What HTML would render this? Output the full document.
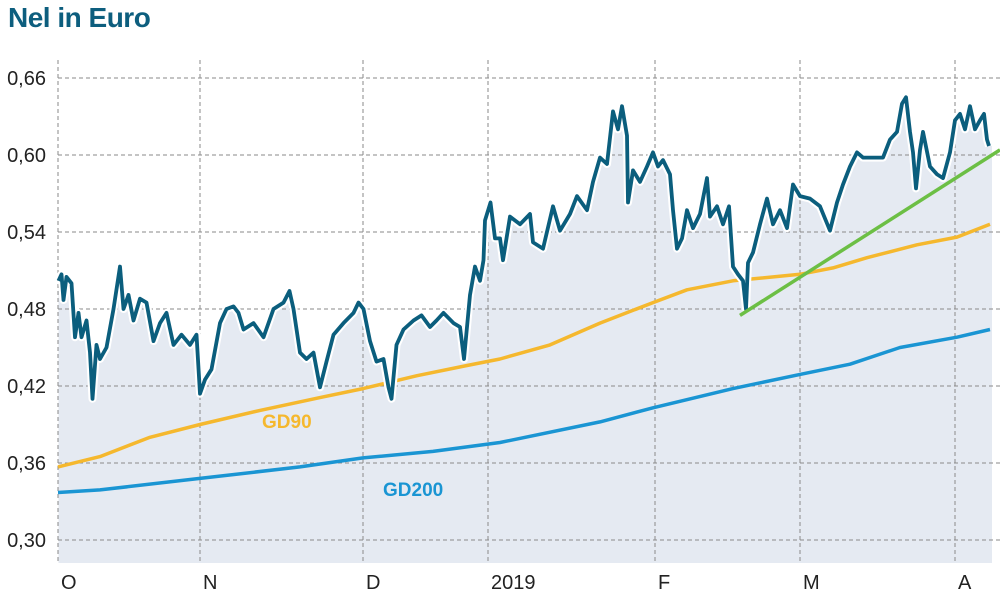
<!DOCTYPE html>
<html><head><meta charset="utf-8"><style>
html,body{margin:0;padding:0;background:#fff;width:1000px;height:595px;overflow:hidden}
svg{display:block}
text{font-family:"Liberation Sans","DejaVu Sans",sans-serif}
</style></head><body>
<svg id="chart" width="1000" height="595" viewBox="0 0 1000 595" xmlns="http://www.w3.org/2000/svg">
<text x="8" y="27" font-size="28" font-weight="bold" fill="#0d5e7e" letter-spacing="-0.5">Nel in Euro</text>
<g id="fill"></g>
<g id="grid"></g>
<g id="series"></g>
<g id="axes"></g>
<text x="262" y="428" font-size="19" font-weight="bold" fill="#f5b82e">GD90</text>
<text x="383" y="496" font-size="19" font-weight="bold" fill="#1a95d3">GD200</text>
</svg>
<script>
// x domain: session index 0..187 ; y domain: EUR
const yTicks = [0.30, 0.36, 0.42, 0.48, 0.54, 0.60, 0.66];
const yTickLabels = ["0,30","0,36","0,42","0,48","0,54","0,60","0,66"];
const monthIdx = [0, 28.4, 61, 86, 119.4, 148.4, 179.4];
const monthLabels = ["O","N","D","2019","F","M","A"];
const priceIdx = [0.1,0.7,1.1,1.7,2.7,3.4,4.1,4.7,5.7,6.4,6.9,7.7,8.4,9.7,11.1,12.4,13.1,14.1,15.1,16.4,17.7,19.1,20.4,21.7,23.1,24.7,26.4,27.7,28.4,29.4,30.7,32.4,33.7,35.1,36.1,37.1,39.1,41.1,43.1,45.1,46.3,47.1,48.4,49.7,51.1,52.4,53.7,55.1,57.1,59.1,60.1,61.1,62.4,63.7,65.1,66.1,66.7,67.7,69.1,71.1,72.7,74.4,75.7,77.1,79.1,80.4,81.2,82.4,83.4,84.4,85.1,85.4,86.5,87.4,88.4,89,90.4,92.4,94.4,95,97,99,100.4,102.4,103.8,105.8,107,108.4,109.8,111,112,112.8,113.8,114,115,116.4,117.8,119,120,121,122.4,123,123.8,124.8,125.8,127,128.4,129.8,130.4,131.8,133,134.2,135,136,137,137.6,138,139,140.4,141.8,143,144.4,145.8,147,148.4,150.4,152.4,154.4,155.8,157,158.4,159.8,161,163,165,166.4,167.8,168.8,169.6,170.4,171,171.6,172.4,173,174.4,175.8,177,178.4,179.4,180.4,181.4,182.4,183.4,184.4,185.2,185.8,186.2];
const priceVal = [0.502,0.507,0.487,0.505,0.50,0.458,0.477,0.458,0.471,0.446,0.41,0.452,0.441,0.45,0.48,0.513,0.48,0.491,0.471,0.488,0.485,0.455,0.469,0.477,0.452,0.46,0.452,0.46,0.414,0.425,0.433,0.469,0.48,0.482,0.477,0.464,0.469,0.458,0.48,0.485,0.494,0.48,0.446,0.441,0.446,0.419,0.439,0.46,0.469,0.477,0.485,0.48,0.455,0.439,0.441,0.419,0.41,0.452,0.464,0.471,0.475,0.466,0.471,0.477,0.469,0.466,0.441,0.491,0.513,0.502,0.518,0.549,0.563,0.535,0.535,0.518,0.552,0.546,0.554,0.532,0.527,0.56,0.541,0.554,0.568,0.557,0.579,0.598,0.593,0.634,0.62,0.638,0.615,0.563,0.588,0.579,0.591,0.602,0.591,0.596,0.585,0.557,0.527,0.535,0.557,0.543,0.554,0.582,0.552,0.56,0.546,0.56,0.513,0.507,0.502,0.48,0.516,0.524,0.546,0.566,0.546,0.557,0.543,0.577,0.568,0.566,0.56,0.541,0.563,0.577,0.591,0.602,0.598,0.598,0.598,0.612,0.618,0.64,0.645,0.618,0.602,0.574,0.604,0.618,0.591,0.585,0.582,0.602,0.627,0.632,0.62,0.638,0.62,0.627,0.632,0.612,0.607];
const gd90Idx = [0,8.4,18.4,28.4,40.4,52.4,61,71.8,81.8,88.4,98.4,108.4,119,125.8,135,148.4,155,161.8,171.8,179.8,186.4];
const gd90Val = [0.357,0.365,0.38,0.39,0.401,0.411,0.418,0.428,0.436,0.441,0.452,0.469,0.485,0.495,0.502,0.507,0.512,0.52,0.53,0.536,0.546];
const gd200Idx = [0,8.4,28.4,48.4,61,75,88.4,108.4,119,135,148.4,158.4,168.4,179.8,186.4];
const gd200Val = [0.337,0.339,0.348,0.357,0.364,0.369,0.376,0.392,0.403,0.418,0.429,0.437,0.45,0.458,0.464];
const trendIdx = [136.4, 188.4];
const trendVal = [0.475, 0.604];

const X0=58, X1=992, Y0=563, YTOP=60;
const xS = i => X0 + i*(X1-X0)/186.8;
const yS = v => 540 - (v-0.30)*(462/0.36);
const NS="http://www.w3.org/2000/svg";
function mk(tag, parent, attrs){const e=document.createElementNS(NS,tag);for(const k in attrs)e.setAttribute(k,attrs[k]);parent.appendChild(e);return e;}
const fillG=document.getElementById('fill'), gridG=document.getElementById('grid'), serG=document.getElementById('series'), axG=document.getElementById('axes');

function pts(ix, vs){return ix.map((i,k)=>xS(i).toFixed(1)+","+yS(vs[k]).toFixed(1));}
const pp = pts(priceIdx, priceVal);
const area = mk('polygon', fillG, {points: xS(priceIdx[0]).toFixed(1)+","+Y0+" "+pp.join(" ")+" "+X1+","+yS(priceVal[priceVal.length-1]).toFixed(1)+" "+X1+","+Y0, fill:'#e5eaf2'});



yTicks.forEach((v,k)=>{
  const l=mk('line',gridG,{x1:X0,x2:1000,y1:yS(v),y2:yS(v),stroke:'#8a8a8a','stroke-width':1,'stroke-dasharray':'4,3'});
  
  
  const t=mk('text',axG,{x:46,y:yS(v)+7,'text-anchor':'end','font-size':20,fill:'#222'});
  t.textContent=yTickLabels[k];
  
  
});
monthIdx.forEach((m,k)=>{
  const x=xS(m);
  const l=mk('line',gridG,{x1:x,x2:x,y1:YTOP,y2:Y0,stroke:'#8a8a8a','stroke-width':1,'stroke-dasharray':'4,3'});
  
  
  const t=mk('text',axG,{x:x+3,y:589,'font-size':20,fill:'#222'});
  t.textContent=monthLabels[k];
  
  
});

const g200=mk('polyline',serG,{points:pts(gd200Idx,gd200Val).join(" "),fill:'none',stroke:'#1a95d3','stroke-width':3.5,'stroke-linejoin':'round'});


const g90=mk('polyline',serG,{points:pts(gd90Idx,gd90Val).join(" "),fill:'none',stroke:'#f5b82e','stroke-width':3.5,'stroke-linejoin':'round'});


const halo=mk('polyline',serG,{points:pp.join(" "),fill:'none',stroke:'#fff','stroke-width':8,'stroke-linejoin':'round'});


const pl=mk('polyline',serG,{points:pp.join(" "),fill:'none',stroke:'#0b5e7d','stroke-width':3.8,'stroke-linejoin':'round'});


const tr=mk('polyline',serG,{points:pts(trendIdx,trendVal).join(" "),fill:'none',stroke:'#6cbf45','stroke-width':3.5});


</script>
</body></html>
